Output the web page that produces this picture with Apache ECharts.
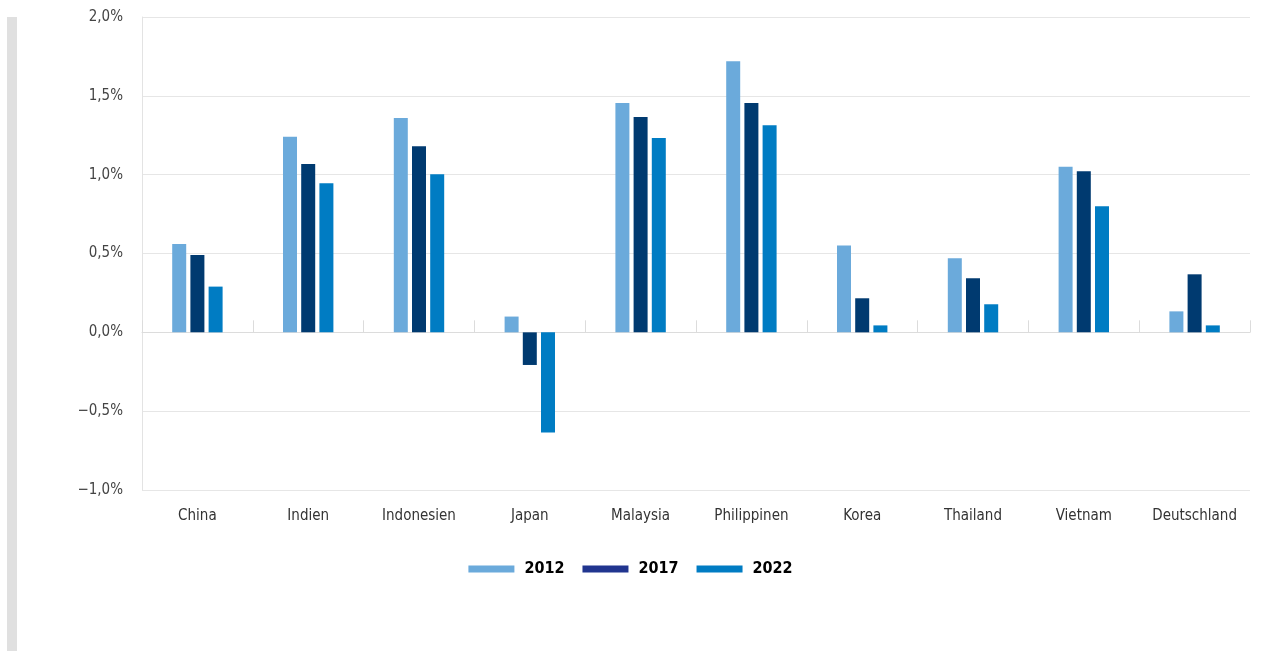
<!DOCTYPE html>
<html>
<head>
<meta charset="utf-8">
<script src="https://cdn.jsdelivr.net/npm/echarts@6/dist/echarts.min.js"></script>
<style>
html,body{margin:0;padding:0;background:#fff;}
#chart{width:1261px;height:651px;}
</style>
</head>
<body>
<div id="chart"></div>
<script>
const categories = ['China','Indien','Indonesien','Japan','Malaysia','Philippinen','Korea','Thailand','Vietnam','Deutschland'];
const years = ['2012','2017','2022'];
const values2012 = [0.56, 1.24, 1.36, 0.10, 1.455, 1.72, 0.55, 0.47, 1.05, 0.133];
const values2017 = [0.49, 1.067, 1.18, -0.207, 1.365, 1.455, 0.216, 0.343, 1.022, 0.368];
const values2022 = [0.29, 0.946, 1.003, -0.635, 1.232, 1.314, 0.044, 0.178, 0.80, 0.044];
const yTicks = [-1.0, -0.5, 0.0, 0.5, 1.0, 1.5, 2.0];

const colors = ['#6BAADB', '#003A70', '#007CC3'];
const legendColors = ['#6BAADB', '#21358F', '#007CC3'];
const font = "'Liberation Sans Narrow', 'DejaVu Sans Condensed', sans-serif";

const chart = echarts.init(document.getElementById('chart'), null, {renderer: 'canvas'});
const seriesData = [values2012, values2017, values2022];

chart.setOption({
  animation: false,
  backgroundColor: '#fff',
  graphic: [{
    type: 'rect', left: 7, top: 17,
    shape: {width: 10, height: 634},
    style: {fill: '#e0e0e0'}
  }],
  grid: {left: 142, right: 11, top: 17, bottom: 161, containLabel: false},
  legend: {
    left: 'center', top: 556,
    itemWidth: 46, itemHeight: 7, itemGap: 18,
    icon: 'rect',
    textStyle: {fontFamily: font, fontWeight: 'bold', fontSize: 16, color: '#000', padding: [0,0,0,5]},
    data: years.map((y, i) => ({name: y, itemStyle: {color: legendColors[i]}}))
  },
  xAxis: [{
    type: 'category', data: categories, position: 'bottom',
    axisLine: {show: false, onZero: false},
    axisTick: {show: false},
    axisLabel: {fontFamily: font, fontSize: 15, color: '#333', margin: 19, interval: 0}
  }, {
    type: 'category', data: categories, position: 'top',
    axisLine: {show: true, onZero: true, lineStyle: {color: '#dcdcdc', width: 1}},
    axisTick: {show: true, inside: false, length: 12, interval: 0, lineStyle: {color: '#dcdcdc'}},
    axisLabel: {show: false}
  }],
  yAxis: {
    type: 'value', min: -1, max: 2, interval: 0.5,
    axisLine: {show: true, lineStyle: {color: '#e3e3e3'}},
    axisTick: {show: false},
    splitLine: {lineStyle: {color: '#e6e6e6', width: 1}},
    axisLabel: {
      fontFamily: font, fontSize: 15, color: '#444', margin: 19,
      formatter: v => {
        const t = yTicks.find(x => Math.abs(x - v) < 1e-9);
        const val = t === undefined ? v : t;
        const s = Math.abs(val).toFixed(1).replace('.', ',') + '%';
        return val < 0 ? '\u2212' + s : s;
      }
    }
  },
  series: years.map((y, i) => ({
    name: y, type: 'bar', xAxisIndex: 0,
    data: seriesData[i],
    barWidth: 14, barGap: '30%',
    itemStyle: {color: colors[i]}
  }))
});
</script>
</body>
</html>
